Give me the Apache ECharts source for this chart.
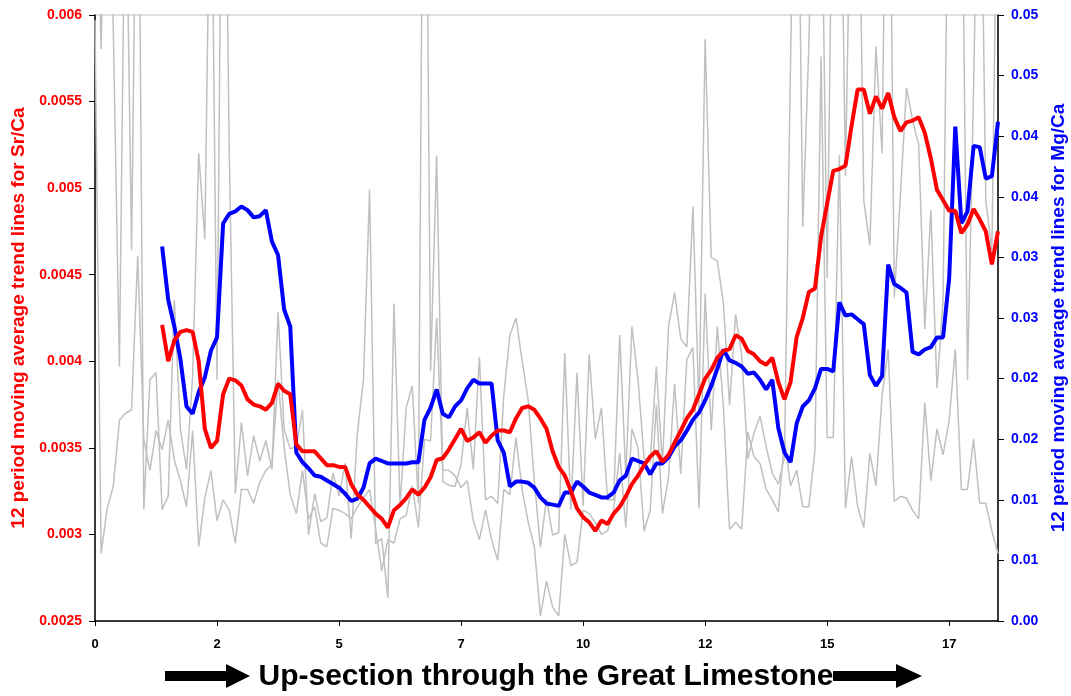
<!DOCTYPE html>
<html>
<head>
<meta charset="utf-8">
<script src="https://cdn.jsdelivr.net/npm/echarts@6/dist/echarts.min.js"></script>
<style>
html, body { margin: 0; padding: 0; background: #fff; }
#chart { width: 1071px; height: 696px; }
</style>
</head>
<body>
<div id="chart"></div>
<script>
// x axis: evenly spaced samples, a label every 20th sample
var xTickLabels = ['0', '2', '5', '7', '10', '12', '15', '17'];
var xTickEvery = 20;
var sampleCount = 149;
var maStart = 11; // 12 period moving average starts at the 12th sample

// raw Sr/Ca (grey, left axis)
var rawSr = [0.00597, 0.00289, 0.00315, 0.00328, 0.00366, 0.00370, 0.00372, 0.00461, 0.00355, 0.00337,
  0.00360, 0.00349, 0.00366, 0.00343, 0.00331, 0.00316, 0.00360, 0.00293, 0.00321, 0.00337,
  0.00308, 0.00320, 0.00314, 0.00295, 0.00326, 0.00326, 0.00318, 0.00330, 0.00337, 0.00340,
  0.00389, 0.00350, 0.00323, 0.00312, 0.00337, 0.00309, 0.00316, 0.00295, 0.00293, 0.00315,
  0.00314, 0.00312, 0.00309, 0.00316, 0.00321, 0.00326, 0.00303, 0.00279, 0.00297, 0.00295,
  0.00309, 0.00311, 0.00328, 0.00304, 0.00355, 0.00354, 0.00425, 0.00337, 0.00337, 0.00334,
  0.00327, 0.00331, 0.00308, 0.00297, 0.00314, 0.00297, 0.00285, 0.00326, 0.00323, 0.00356,
  0.00326, 0.00307, 0.00293, 0.00253, 0.00273, 0.00258, 0.00253, 0.00300, 0.00282, 0.00284,
  0.00314, 0.00312, 0.00307, 0.00300, 0.00302, 0.00314, 0.00347, 0.00304, 0.00361, 0.00350,
  0.00302, 0.00314, 0.00375, 0.00312, 0.00333, 0.00387, 0.00335, 0.00401, 0.00408, 0.00315,
  0.00439, 0.00360, 0.00420, 0.00373, 0.00303, 0.00307, 0.00303, 0.00359, 0.00345, 0.00341,
  0.00326, 0.00320, 0.00313, 0.00355, 0.00328, 0.00337, 0.00316, 0.00316, 0.00349, 0.00576,
  0.00356, 0.00356, 0.00519, 0.00315, 0.00345, 0.00316, 0.00304, 0.00347, 0.00328, 0.00380,
  0.00407, 0.00319, 0.00322, 0.00321, 0.00314, 0.00309, 0.00376, 0.00331, 0.00361, 0.00346,
  0.00366, 0.00407, 0.00326, 0.00326, 0.00355, 0.00318, 0.00318, 0.00302, 0.00289];

// raw Mg/Ca (grey, right axis) - many values run off the top
var rawMg = [0.070, 0.0472, 0.070, 0.0488, 0.0210, 0.065, 0.0306, 0.075, 0.0092, 0.0199,
  0.0205, 0.0092, 0.0103, 0.0265, 0.0158, 0.0125, 0.0202, 0.0386, 0.0315, 0.068,
  0.0199, 0.080, 0.0389, 0.0105, 0.0164, 0.0120, 0.0153, 0.0132, 0.0149, 0.0125,
  0.0255, 0.0158, 0.0142, 0.0144, 0.0174, 0.0071, 0.0105, 0.0082, 0.0085, 0.0122,
  0.0103, 0.0130, 0.0068, 0.0155, 0.0199, 0.0356, 0.0064, 0.0068, 0.0019, 0.0262,
  0.0095, 0.0176, 0.0194, 0.0097, 0.085, 0.0206, 0.0384, 0.0115, 0.0112, 0.0111,
  0.0129, 0.0176, 0.0125, 0.0218, 0.0100, 0.0103, 0.0097, 0.0186, 0.0236, 0.0250,
  0.0215, 0.0182, 0.0116, 0.0061, 0.0101, 0.0071, 0.0073, 0.0221, 0.0092, 0.0205,
  0.0095, 0.0220, 0.0150, 0.0176, 0.0100, 0.0100, 0.0236, 0.0120, 0.0243, 0.0199,
  0.0134, 0.0131, 0.0210, 0.0129, 0.0243, 0.0271, 0.0233, 0.0226, 0.0342, 0.0174,
  0.0480, 0.0300, 0.0297, 0.0262, 0.0178, 0.0253, 0.0219, 0.0134, 0.0155, 0.0169,
  0.0144, 0.0122, 0.0113, 0.0135, 0.0462, 0.075, 0.0325, 0.0475, 0.070, 0.065,
  0.0283, 0.068, 0.072, 0.0367, 0.066, 0.070, 0.0347, 0.0310, 0.0474, 0.0386,
  0.080, 0.0267, 0.0351, 0.0440, 0.0413, 0.0393, 0.0241, 0.0339, 0.0192, 0.0265,
  0.070, 0.090, 0.068, 0.0199, 0.0441, 0.072, 0.0347, 0.0306, 0.068];

// 12 period moving average Sr/Ca (red), samples 11..148
var maSr = [0.00421, 0.00400, 0.00412, 0.00417, 0.00418, 0.00417, 0.00400, 0.00361, 0.00350,
  0.00354, 0.00381, 0.00390, 0.00389, 0.00386, 0.00378, 0.00375, 0.00374, 0.00372, 0.00376,
  0.00387, 0.00383, 0.00381, 0.00352, 0.00348, 0.00348, 0.00348, 0.00344, 0.00340, 0.00340,
  0.00339, 0.00339, 0.00329, 0.00323, 0.00320, 0.00316, 0.00312, 0.00309, 0.00304, 0.00314,
  0.00317, 0.00321, 0.00326, 0.00323, 0.00327, 0.00333, 0.00343, 0.00344, 0.00349, 0.00355,
  0.00361, 0.00354, 0.00356, 0.00359, 0.00353, 0.00357, 0.00360, 0.00360, 0.00359, 0.00367,
  0.00373, 0.00374, 0.00372, 0.00367, 0.00361, 0.00348, 0.00339, 0.00334, 0.00325, 0.00315,
  0.00310, 0.00307, 0.00302, 0.00308, 0.00306, 0.00312, 0.00316, 0.00322, 0.00329, 0.00334,
  0.00340, 0.00345, 0.00348, 0.00342, 0.00346, 0.00353, 0.00360, 0.00367, 0.00372, 0.00381,
  0.00390, 0.00395, 0.00402, 0.00406, 0.00407, 0.00415, 0.00413, 0.00406, 0.00404, 0.00400,
  0.00398, 0.00402, 0.00388, 0.00378, 0.00388, 0.00414, 0.00425, 0.00440, 0.00442, 0.00472,
  0.00491, 0.00510, 0.00511, 0.00513, 0.00536, 0.00557, 0.00557, 0.00543, 0.00553, 0.00546,
  0.00555, 0.00541, 0.00533, 0.00538, 0.00539, 0.00541, 0.00532, 0.00517, 0.00499, 0.00493,
  0.00487, 0.00487, 0.00474, 0.00479, 0.00488, 0.00482, 0.00475, 0.00456, 0.00475];

// 12 period moving average Mg/Ca (blue), samples 11..148
var maMg = [0.0309, 0.0265, 0.0243, 0.0216, 0.0177, 0.0171, 0.0189, 0.0201, 0.0223,
  0.0234, 0.0328, 0.0336, 0.0338, 0.0342, 0.0339, 0.0333, 0.0334, 0.0339, 0.0313,
  0.0302, 0.0257, 0.0243, 0.0139, 0.0131, 0.0126, 0.0120, 0.0119, 0.0116, 0.0113,
  0.0110, 0.0105, 0.0099, 0.0101, 0.0110, 0.0130, 0.0134, 0.0132, 0.0130, 0.0130,
  0.0130, 0.0130, 0.0131, 0.0131, 0.0166, 0.0176, 0.0191, 0.0171, 0.0168, 0.0177,
  0.0182, 0.0192, 0.0199, 0.0196, 0.0196, 0.0196, 0.0149, 0.0139, 0.0111, 0.0115,
  0.0115, 0.0114, 0.0110, 0.0102, 0.0097, 0.0096, 0.0095, 0.0106, 0.0106, 0.0115,
  0.0111, 0.0106, 0.0104, 0.0102, 0.0102, 0.0106, 0.0116, 0.0120, 0.0134, 0.0132,
  0.0130, 0.0121, 0.0130, 0.0130, 0.0135, 0.0144, 0.0149, 0.0157, 0.0166, 0.0172,
  0.0182, 0.0194, 0.0208, 0.0224, 0.0215, 0.0213, 0.0210, 0.0204, 0.0205, 0.0199,
  0.0191, 0.0199, 0.0159, 0.0139, 0.0131, 0.0163, 0.0177, 0.0182, 0.0192, 0.0208,
  0.0208, 0.0206, 0.0263, 0.0252, 0.0253, 0.0249, 0.0245, 0.0203, 0.0194, 0.0202,
  0.0294, 0.0278, 0.0275, 0.0271, 0.0222, 0.0220, 0.0224, 0.0226, 0.0234, 0.0234,
  0.0283, 0.0408, 0.0328, 0.0338, 0.0392, 0.0391, 0.0365, 0.0367, 0.0412];

var categories = [];
for (var i = 0; i < sampleCount; i++) categories.push(i);

// moving averages have no value for the first 11 samples
function padFront(arr) {
  var out = [];
  for (var k = 0; k < maStart; k++) out.push('-');
  return out.concat(arr);
}

var FONT = 'Liberation Sans, Arial, sans-serif';

var chart = echarts.init(document.getElementById('chart'));
var option = {
  animation: false,
  backgroundColor: '#fff',
  grid: {
    left: 95, right: 73, top: 15, bottom: 75,
    outerBoundsMode: 'none',
    show: true, borderColor: '#c0c0c0', borderWidth: 1
  },
  xAxis: {
    type: 'category',
    data: categories,
    boundaryGap: false,
    axisLine: { lineStyle: { color: '#000', width: 1.5 } },
    axisTick: { interval: xTickEvery - 1, length: 5, lineStyle: { color: '#000' } },
    axisLabel: {
      interval: xTickEvery - 1,
      margin: 17,
      color: '#000',
      fontWeight: 'bold',
      fontSize: 13,
      fontFamily: FONT,
      formatter: function (v, idx) {
        return xTickLabels[idx / xTickEvery] || '';
      }
    },
    splitLine: { show: false }
  },
  yAxis: [
    {
      type: 'value',
      position: 'left',
      min: 0.0025,
      max: 0.006,
      interval: 0.0005,
      name: '12 period moving average trend lines for Sr/Ca',
      nameLocation: 'middle',
      nameGap: 59,
      nameTextStyle: { color: '#ff0000', fontWeight: 'bold', fontSize: 19, fontFamily: FONT },
      axisLine: { show: true, lineStyle: { color: '#000', width: 1.5 } },
      axisTick: { show: true, length: 6, lineStyle: { color: '#000' } },
      splitLine: { show: false },
      axisLabel: {
        color: '#ff0000', fontWeight: 'bold', fontSize: 14, fontFamily: FONT, margin: 13,
        formatter: function (v) { return String(+v.toFixed(4)); }
      }
    },
    {
      type: 'value',
      position: 'right',
      min: 0,
      max: 0.05,
      interval: 0.005,
      name: '12 period moving average trend lines for Mg/Ca',
      nameLocation: 'middle',
      nameGap: 43,
      nameTextStyle: { color: '#0000ff', fontWeight: 'bold', fontSize: 19, fontFamily: FONT },
      axisLine: { show: true, lineStyle: { color: '#000', width: 1.5 } },
      axisTick: { show: true, length: 6, lineStyle: { color: '#000' } },
      splitLine: { show: false },
      axisLabel: {
        color: '#0000ff', fontWeight: 'bold', fontSize: 14, fontFamily: FONT, margin: 13,
        // two decimals, halves rounded up (0.005 -> 0.01)
        formatter: function (v) { return (Math.round(v * 100 + 1e-6) / 100).toFixed(2); }
      }
    }
  ],
  series: [
    {
      name: 'Sr/Ca', type: 'line', yAxisIndex: 0, data: rawSr,
      symbol: 'none', lineStyle: { color: '#c0c0c0', width: 1.5 }, z: 1
    },
    {
      name: 'Mg/Ca', type: 'line', yAxisIndex: 1, data: rawMg,
      symbol: 'none', lineStyle: { color: '#c0c0c0', width: 1.5 }, z: 1
    },
    {
      name: 'Mg/Ca 12 period MA', type: 'line', yAxisIndex: 1, data: padFront(maMg),
      symbol: 'none', lineStyle: { color: '#0000ff', width: 4 }, z: 3
    },
    {
      name: 'Sr/Ca 12 period MA', type: 'line', yAxisIndex: 0, data: padFront(maSr),
      symbol: 'none', lineStyle: { color: '#ff0000', width: 4 }, z: 4
    }
  ],
  graphic: [
    {
      type: 'polygon',
      shape: { points: [[165, 671], [226, 671], [226, 664], [250, 676], [226, 688], [226, 681], [165, 681]] },
      style: { fill: '#000' }
    },
    {
      type: 'polygon',
      shape: { points: [[833, 671], [896, 671], [896, 664], [922, 676], [896, 688], [896, 681], [833, 681]] },
      style: { fill: '#000' }
    },
    {
      type: 'text',
      x: 546, y: 677,
      style: {
        text: 'Up-section through the Great Limestone',
        fill: '#000',
        font: 'bold 30px ' + FONT,
        align: 'center',
        verticalAlign: 'middle'
      }
    }
  ]
};
chart.setOption(option);
</script>
</body>
</html>
